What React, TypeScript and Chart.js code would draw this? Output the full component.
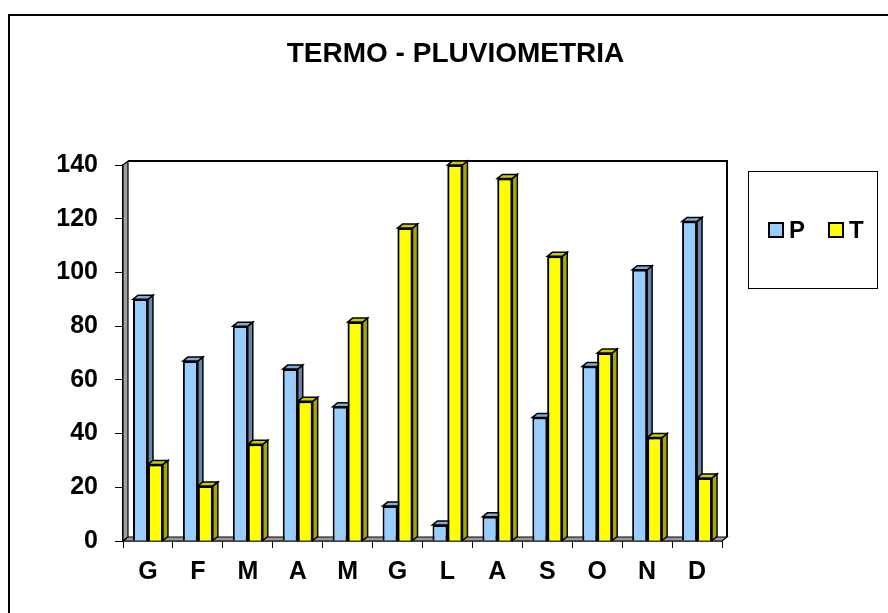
import React, { useEffect, useRef } from "react";
import { Chart, registerables } from "chart.js";

Chart.register(...registerables);

const titleText = "TERMO - PLUVIOMETRIA";
const categories = ["G", "F", "M", "A", "M", "G", "L", "A", "S", "O", "N", "D"];
const seriesNames = ["P", "T"];
const seriesP = [90, 67, 80, 64, 50, 13, 6, 9, 46, 65, 101, 119];
const seriesT = [28.5, 20.5, 36, 52, 81.5, 116.5, 140, 135, 106, 70, 38.5, 23.5];
const yTicks = [0, 20, 40, 60, 80, 100, 120, 140];

const FONT = "'Liberation Sans', Arial, Helvetica, sans-serif";
const fillColors = ["#99CCFF", "#FFFF00"];
const sideColors = ["#6686AE", "#A6A600"];
const topColors = ["#7DAAD8", "#CCCC00"];
const DX = 5;
const DY = 4;

const threeD = {
  id: "threeD",
  beforeDraw(chart: any) {
    const ctx = chart.ctx;
    ctx.save();
    ctx.fillStyle = "#ffffff";
    ctx.fillRect(0, 0, chart.width, chart.height);
    ctx.strokeStyle = "#000";
    ctx.lineWidth = 2;
    ctx.strokeRect(9, 15, 1000, 800);
    ctx.fillStyle = "#000";
    ctx.font = `bold 28px ${FONT}`;
    ctx.textAlign = "center";
    ctx.textBaseline = "alphabetic";
    ctx.fillText(titleText, 455.5, 61.5);
    ctx.restore();
  },
  beforeDatasetsDraw(chart: any) {
    const { ctx, chartArea } = chart;
    const { left: L, right: R, top: T, bottom: B } = chartArea;
    ctx.save();
    ctx.strokeStyle = "#000";
    ctx.lineWidth = 1.2;
    ctx.lineJoin = "miter";
    ctx.fillStyle = "#A0A0A0";
    ctx.beginPath();
    ctx.moveTo(L, B);
    ctx.lineTo(L, T);
    ctx.lineTo(L + DX, T - DY);
    ctx.lineTo(L + DX, B - DY);
    ctx.closePath();
    ctx.fill();
    ctx.stroke();
    ctx.fillStyle = "#9A9A9A";
    ctx.beginPath();
    ctx.moveTo(L, B);
    ctx.lineTo(R, B);
    ctx.lineTo(R + DX, B - DY);
    ctx.lineTo(L + DX, B - DY);
    ctx.closePath();
    ctx.fill();
    ctx.stroke();
    ctx.lineWidth = 2;
    ctx.beginPath();
    ctx.moveTo(L + DX, T - DY);
    ctx.lineTo(R + DX, T - DY);
    ctx.lineTo(R + DX, B - DY);
    ctx.stroke();
    ctx.restore();
  },
  afterDatasetsDraw(chart: any) {
    const ctx = chart.ctx;
    ctx.save();
    ctx.strokeStyle = "#000";
    ctx.lineWidth = 1.5;
    ctx.lineJoin = "miter";
    const drawFaces = (el: any, di: number) => {
      const { x, y, base, width } = el.getProps(["x", "y", "base", "width"], true);
      const l = x - width / 2;
      const r = x + width / 2;
      ctx.fillStyle = sideColors[di];
      ctx.beginPath();
      ctx.moveTo(r, y);
      ctx.lineTo(r + DX, y - DY);
      ctx.lineTo(r + DX, base - DY);
      ctx.lineTo(r, base);
      ctx.closePath();
      ctx.fill();
      ctx.stroke();
      ctx.fillStyle = topColors[di];
      ctx.beginPath();
      ctx.moveTo(l, y);
      ctx.lineTo(l + DX, y - DY);
      ctx.lineTo(r + DX, y - DY);
      ctx.lineTo(r, y);
      ctx.closePath();
      ctx.fill();
      ctx.stroke();
    };
    const m0 = chart.getDatasetMeta(0);
    const m1 = chart.getDatasetMeta(1);
    m0.data.forEach((el: any) => drawFaces(el, 0));
    m1.data.forEach((el: any) => drawFaces(el, 1));
    ctx.restore();
    m1.data.forEach((el: any) => el.draw(ctx));
  },
  afterDraw(chart: any) {
    const ctx = chart.ctx;
    ctx.save();
    ctx.strokeStyle = "#000";
    ctx.lineWidth = 1;
    ctx.strokeRect(748.5, 171.5, 129, 117);
    ctx.font = `bold 24px ${FONT}`;
    ctx.textAlign = "left";
    ctx.textBaseline = "alphabetic";
    const xs = [769, 829];
    chart.data.datasets.forEach((ds: any, i: number) => {
      ctx.fillStyle = fillColors[i];
      ctx.fillRect(xs[i], 223, 14, 14);
      ctx.lineWidth = 2;
      ctx.strokeRect(xs[i], 223, 14, 14);
      ctx.fillStyle = "#000";
      ctx.fillText(ds.label, xs[i] + 20, 238);
    });
    ctx.restore();
  },
};

export default function App() {
  const ref = useRef<HTMLCanvasElement | null>(null);
  useEffect(() => {
    if (!ref.current) return;
    const chart = new Chart(ref.current, {
      type: "bar",
      data: {
        labels: categories,
        datasets: [
          {
            label: seriesNames[0],
            data: seriesP,
            backgroundColor: fillColors[0],
            borderColor: "#000",
            borderWidth: 2,
            categoryPercentage: 0.6,
            barPercentage: 1.0,
          },
          {
            label: seriesNames[1],
            data: seriesT,
            backgroundColor: fillColors[1],
            borderColor: "#000",
            borderWidth: 2,
            categoryPercentage: 0.6,
            barPercentage: 1.0,
          },
        ],
      },
      options: {
        responsive: false,
        animation: false,
        devicePixelRatio: 1,
        layout: { padding: { left: 48, right: 166, top: 165, bottom: 0 } },
        plugins: {
          legend: { display: false },
          title: { display: false },
          tooltip: { enabled: false },
        },
        scales: {
          x: {
            grid: {
              drawOnChartArea: false,
              drawTicks: true,
              tickLength: 7,
              color: "#000",
              offset: true,
            },
            border: { color: "#000", width: 1.5 },
            ticks: {
              color: "#000",
              padding: 9,
              font: { family: FONT, size: 25, weight: "bold" },
              maxRotation: 0,
              autoSkip: false,
            },
            afterFit: (s: any) => {
              s.height = 72;
            },
          },
          y: {
            min: yTicks[0],
            max: yTicks[yTicks.length - 1],
            ticks: {
              stepSize: yTicks[1] - yTicks[0],
              color: "#000",
              padding: 17,
              font: { family: FONT, size: 25, weight: "bold" },
            },
            grid: {
              drawOnChartArea: false,
              drawTicks: true,
              tickLength: 8,
              color: "#000",
            },
            border: { color: "#000", width: 1.5 },
            afterFit: (s: any) => {
              s.width = 75;
            },
          },
        },
      },
      plugins: [threeD],
    });
    return () => chart.destroy();
  }, []);
  return (
    <div style={{ position: "fixed", left: 0, top: 0, width: 888, height: 613, background: "#fff" }}>
      <canvas ref={ref} width={888} height={613} style={{ display: "block" }} />
    </div>
  );
}
